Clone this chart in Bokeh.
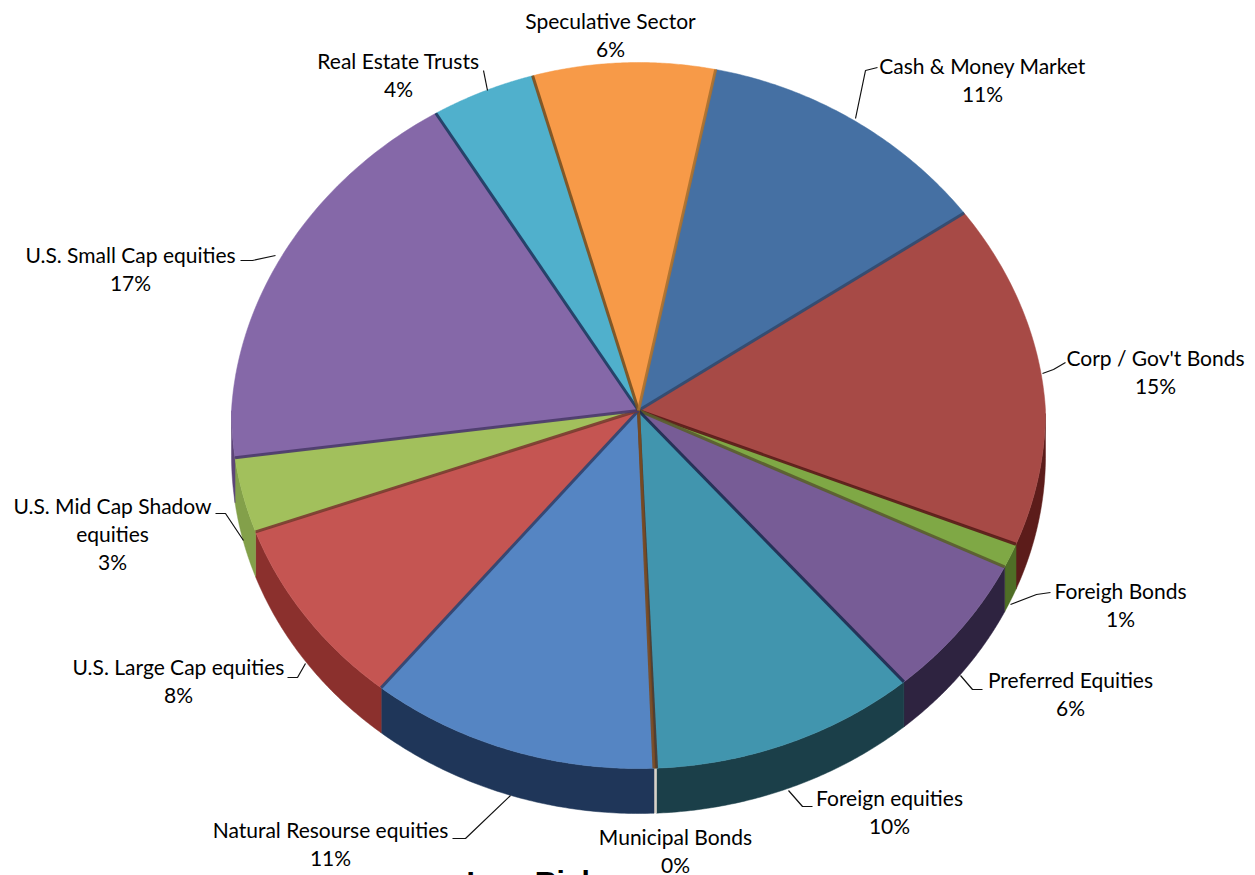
import numpy as np
from bokeh.plotting import figure
from bokeh.embed import file_html
from bokeh.resources import INLINE
from bokeh.core.properties import value
from bokeh.models import Range1d

# Slices clockwise from Cash & Money Market
categories = ["Cash & Money Market", "Corp / Gov't Bonds", "Foreigh Bonds", "Preferred Equities",
              "Foreign equities", "Municipal Bonds", "Natural Resourse equities", "U.S. Large Cap equities",
              "U.S. Mid Cap Shadow\nequities", "U.S. Small Cap equities", "Real Estate Trusts", "Speculative Sector"]
shares = [12.2, 15.7, 1.1, 6.5, 10.6, 0.1, 11.5, 8.6, 3.4, 18.4, 4.3, 7.6]
pct_labels = ["11%", "15%", "1%", "6%", "10%", "0%", "11%", "8%", "3%", "17%", "4%", "6%"]
top_colors = ["#4570A3", "#A74A46", "#7FA845", "#775C96", "#4195AE", "#8A5A30", "#5585C3", "#C55552",
              "#A2C05C", "#8568A8", "#50B0CC", "#F79A48"]
wall_colors = ["#2A4566", "#5C1C1A", "#4F6E26", "#2E2340", "#1B3F49", "#D8D2C8", "#1F3659", "#8B302D",
               "#83A04A", "#5D4578", "#2F7A90", "#B86A28"]
sep_colors = ["#2F4A70", "#5A1A18", "#5A5E2C", "#1F2A50", "#4A3A30", "#7A4A20", "#2E4470", "#7A3A30",
              "#4A3A6A", "#1F3A60", "#7A5020", "#A9702F"]
label_x = [982, 1155, 1120, 1070, 889, 675, 330, 178, 112, 130, 398, 610]
label_y = [65, 357, 590, 679, 797, 836, 829, 666, 505, 254, 60, 20]
leaders_x = [[877, 865, 855], [1065, 1053, 1042], [1050, 1036, 1010], [982, 972, 960], [812, 802, 788],
             [452, 465, 510], [287, 297, 305], [215, 225, 243], [240, 252, 275], [483, 487]]
leaders_y = [[67, 70, 118], [362, 369, 373], [592, 594, 604], [689, 689, 675], [806, 806, 790],
             [838, 838, 795], [677, 677, 663], [513, 513, 540], [260, 260, 255], [70, 90]]
title = "Low Risk"

CX, CY, RX, RY_TOP, RY_BOT, DEPTH, START = 638, 410, 407, 348, 358, 45, 78.5
LINE_H = 28

def project(t):
    s, c = np.sin(t), np.cos(t)
    x = CX + RX * c * (1 - 0.05 * np.maximum(s, 0))
    y = CY - np.where(s > 0, RY_TOP, RY_BOT) * s
    return x, y

p = figure(width=1255, height=875, output_backend="svg", toolbar_location=None,
           x_range=Range1d(0, 1255), y_range=Range1d(875, 0), min_border=0,
           outline_line_color=None, background_fill_color="white")
p.axis.visible = False
p.grid.visible = False

edges = np.radians(START - np.concatenate([[0], np.cumsum(shares)]) * 3.6)

wall_xs, wall_ys, wall_c = [], [], []
top_xs, top_ys, top_c = [], [], []
sep_xs, sep_ys, sep_c = [], [], []
for i in range(len(shares)):
    t = np.linspace(edges[i], edges[i + 1], 80)
    x, y = project(t)
    top_xs.append([CX, *x]); top_ys.append([CY, *y]); top_c.append(top_colors[i])
    low = np.sin(t) <= 0
    if low.any():
        xl, yl = x[low], y[low]
        wall_xs.append([*xl, *xl[::-1]]); wall_ys.append([*yl, *(yl[::-1] + DEPTH)]); wall_c.append(wall_colors[i])
    sep_xs.append([CX, x[-1]]); sep_ys.append([CY, y[-1]]); sep_c.append(sep_colors[i])

p.patches(wall_xs, wall_ys, fill_color=wall_c, line_color=wall_c, line_width=0.5)
p.patches(top_xs, top_ys, fill_color=top_c, line_color=top_c, line_width=0.5)
p.multi_line(sep_xs, sep_ys, line_color=sep_c, line_width=3, line_alpha=0.9)
p.multi_line(leaders_x, leaders_y, line_color="#111111", line_width=1.2)

tx, ty, tt = [], [], []
for cat, pct, lx, ly in zip(categories, pct_labels, label_x, label_y):
    rows = cat.split("\n") + [pct]
    for j, r in enumerate(rows):
        tx.append(lx); ty.append(ly + j * LINE_H); tt.append(r)
p.text(tx, ty, text=tt, text_font=value("Lato"), text_font_size="21px", text_color="#000000",
       text_align="center", text_baseline="middle")
p.text([466], [864], text=[title], text_font=value("Liberation Sans"), text_font_size="30px",
       text_font_style="bold", text_color="#000000", text_align="left", text_baseline="top")

open("out.html", "w").write(file_html(p, INLINE))
